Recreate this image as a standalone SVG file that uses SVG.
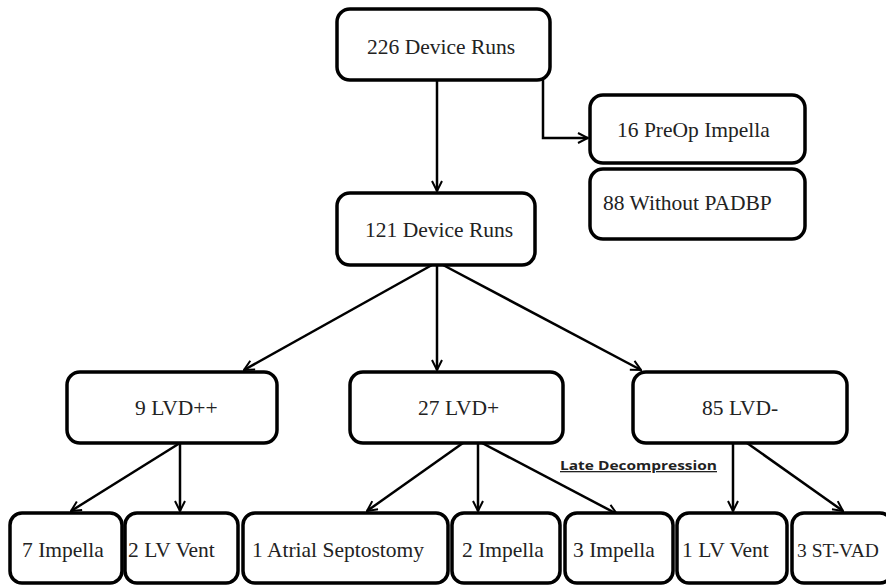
<svg xmlns="http://www.w3.org/2000/svg" width="886" height="586" viewBox="0 0 886 586">
<style>
.box{fill:#fff;stroke:#000;stroke-width:3.5}
.t{font-family:'Liberation Serif','Times New Roman','DejaVu Serif',serif;font-size:21.5px;fill:#222}
.c{fill:none;stroke:#000;stroke-width:2.5}
.lab{font-family:'Open Sans','Liberation Sans',sans-serif;font-size:13px;font-weight:bold;fill:#222;text-decoration:underline}
</style>
<defs>
<marker id="ah" viewBox="0 0 12 12" refX="11" refY="6" markerWidth="12" markerHeight="12" markerUnits="userSpaceOnUse" orient="auto">
<path d="M1,1 L11,6 L1,11" fill="none" stroke="#000" stroke-width="2"/>
</marker>
</defs>
<rect width="886" height="586" fill="#fff"/>
<g id="connectors">
<line class="c" x1="437" y1="80" x2="437" y2="191" marker-end="url(#ah)"/>
<polyline class="c" points="543,80 543,138 588,138" marker-end="url(#ah)"/>
<line class="c" x1="432" y1="265" x2="244" y2="370" marker-end="url(#ah)"/>
<line class="c" x1="437" y1="265" x2="437" y2="370" marker-end="url(#ah)"/>
<line class="c" x1="443" y1="265" x2="641" y2="370" marker-end="url(#ah)"/>
<line class="c" x1="180" y1="443" x2="71" y2="511" marker-end="url(#ah)"/>
<line class="c" x1="180" y1="443" x2="180" y2="511" marker-end="url(#ah)"/>
<line class="c" x1="463" y1="443" x2="367" y2="511" marker-end="url(#ah)"/>
<line class="c" x1="478" y1="443" x2="478" y2="511" marker-end="url(#ah)"/>
<line class="c" x1="482" y1="443" x2="617" y2="514" marker-end="url(#ah)"/>
<line class="c" x1="733" y1="443" x2="733" y2="511" marker-end="url(#ah)"/>
<line class="c" x1="747" y1="443" x2="843" y2="511" marker-end="url(#ah)"/>
</g>
<g id="n226"><rect class="box" x="337" y="9" width="213" height="71" rx="13"/><text class="t" x="367" y="54">226 Device Runs</text></g>
<g id="n16"><rect class="box" x="590" y="95" width="215" height="68" rx="13"/><text class="t" x="617" y="137">16 PreOp Impella</text></g>
<g id="n88"><rect class="box" x="590" y="169" width="215" height="70" rx="13"/><text class="t" x="603" y="210">88 Without PADBP</text></g>
<g id="n121"><rect class="box" x="337" y="193" width="198" height="72" rx="13"/><text class="t" x="365" y="237">121 Device Runs</text></g>
<g id="lvdpp"><rect class="box" x="67" y="372" width="210" height="71" rx="13"/><text class="t" x="135" y="415">9 LVD++</text></g>
<g id="lvdp"><rect class="box" x="350" y="372" width="213" height="71" rx="13"/><text class="t" x="418" y="415">27 LVD+</text></g>
<g id="lvdm"><rect class="box" x="633" y="372" width="214" height="71" rx="13"/><text class="t" x="702" y="415">85 LVD-</text></g>
<g id="imp7"><rect class="box" x="10" y="513" width="112" height="70" rx="12"/><text class="t" x="22" y="557">7 Impella</text></g>
<g id="lv2"><rect class="box" x="125" y="513" width="113" height="70" rx="12"/><text class="t" x="128" y="557">2 LV Vent</text></g>
<g id="atrial"><rect class="box" x="243" y="513" width="205" height="70" rx="12"/><text class="t" x="252" y="557">1 Atrial Septostomy</text></g>
<g id="imp2"><rect class="box" x="452" y="513" width="108" height="70" rx="12"/><text class="t" x="462" y="557">2 Impella</text></g>
<g id="imp3"><rect class="box" x="565" y="513" width="108" height="70" rx="12"/><text class="t" x="573" y="557">3 Impella</text></g>
<g id="lv1"><rect class="box" x="677" y="513" width="110" height="70" rx="12"/><text class="t" x="682" y="557">1 LV Vent</text></g>
<g id="stvad"><rect class="box" x="792" y="513" width="100" height="70" rx="12"/><text class="t" x="797" y="557" style="font-size:19.5px">3 ST-VAD</text></g>
<text class="lab" x="560" y="470" textLength="157" lengthAdjust="spacingAndGlyphs">Late Decompression</text>
</svg>
